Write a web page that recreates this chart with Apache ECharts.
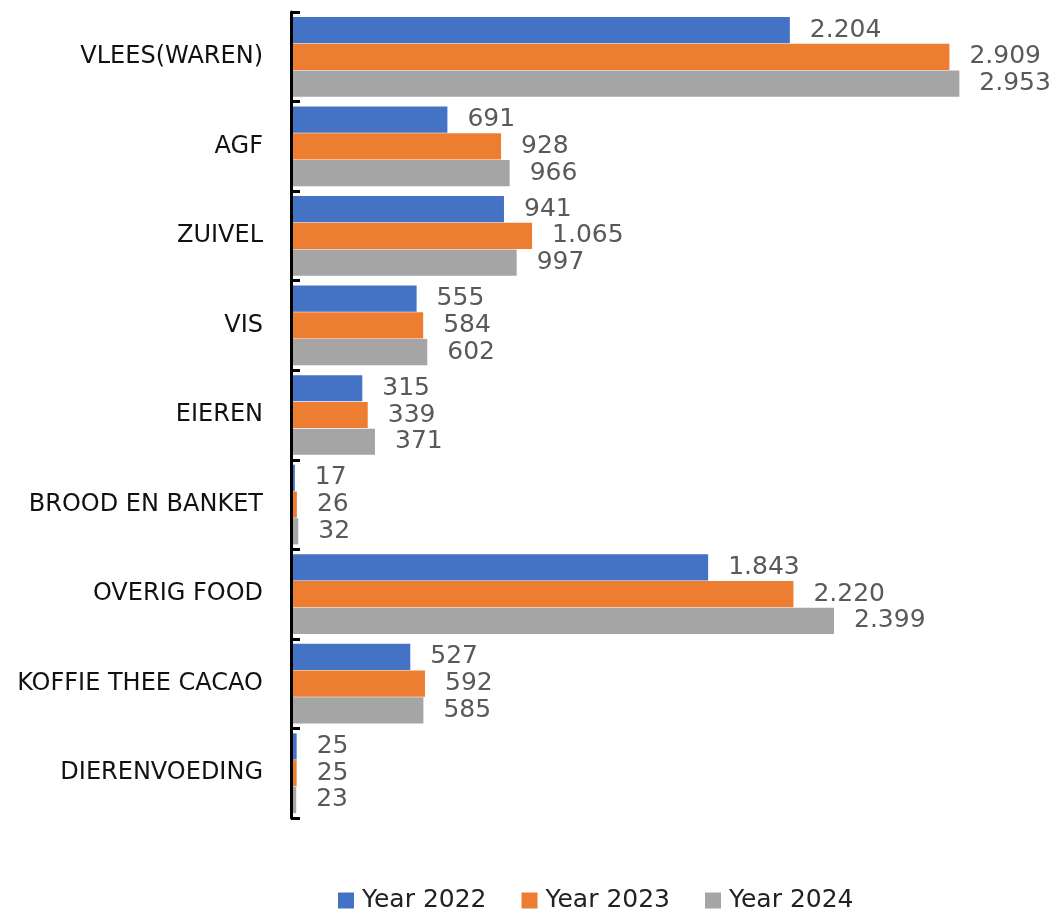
<!DOCTYPE html>
<html>
<head>
<meta charset="utf-8">
<script src="https://cdn.jsdelivr.net/npm/echarts@6/dist/echarts.min.js"></script>
<style>
    html, body { margin: 0; padding: 0; background: #fff; }
    #chart { width: 1055px; height: 915px; }
</style>
</head>
<body>
<div id="chart"></div>
<script>
var categories = ['VLEES(WAREN)', 'AGF', 'ZUIVEL', 'VIS', 'EIEREN', 'BROOD EN BANKET', 'OVERIG FOOD', 'KOFFIE THEE CACAO', 'DIERENVOEDING'];
var year2022 = [2204, 691, 941, 555, 315, 17, 1843, 527, 25];
var year2023 = [2909, 928, 1065, 584, 339, 26, 2220, 592, 25];
var year2024 = [2953, 966, 997, 602, 371, 32, 2399, 585, 23];
var seriesNames = ['Year 2022', 'Year 2023', 'Year 2024'];
var colors = ['#4472c4', '#ed7d31', '#a5a5a5'];

var myChart = echarts.init(document.getElementById('chart'));

// dutch thousands separator
function fmt(v) {
    return String(v).replace(/\B(?=(\d{3})+(?!\d))/g, '.');
}

function makeSeries(name, data) {
    return {
        name: name,
        type: 'bar',
        data: data,
        barGap: '2%',
        barCategoryGap: '11%',
        label: {
            show: true,
            position: 'right',
            distance: 20,
            color: '#595959',
            fontSize: 25,
            fontFamily: 'DejaVu Sans',
            formatter: function (p) { return fmt(p.value); }
        }
    };
}

var option = {
    color: colors,
    animation: false,
    textStyle: { fontFamily: 'DejaVu Sans' },
    grid: {
        left: 291,
        top: 12,
        width: 679,
        height: 806
    },
    legend: {
        top: 888,
        left: 338,
        padding: 0,
        itemWidth: 16,
        itemHeight: 16,
        itemGap: 35,
        icon: 'rect',
        textStyle: { fontSize: 25, color: '#222', fontFamily: 'DejaVu Sans', padding: [0, 0, 0, 3] },
        data: seriesNames
    },
    xAxis: {
        type: 'value',
        min: 0,
        max: 3000,
        show: false
    },
    yAxis: {
        type: 'category',
        inverse: true,
        z: 10,
        data: categories,
        axisLine: { show: true, lineStyle: { color: '#000', width: 3 } },
        axisTick: { show: true, inside: true, length: 9, lineStyle: { color: '#000', width: 3 } },
        axisLabel: { margin: 28, fontSize: 24, color: '#111', fontFamily: 'DejaVu Sans' }
    },
    series: [
        makeSeries(seriesNames[0], year2022),
        makeSeries(seriesNames[1], year2023),
        makeSeries(seriesNames[2], year2024)
    ]
};

myChart.setOption(option);
</script>
</body>
</html>
